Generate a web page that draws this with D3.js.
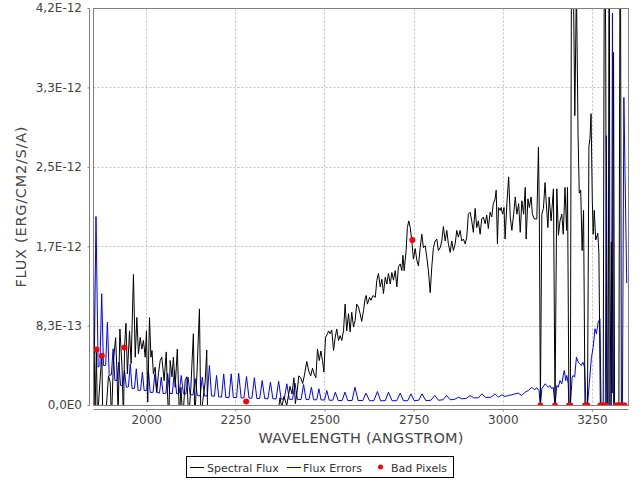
<!DOCTYPE html>
<html><head><meta charset="utf-8">
<script src="https://cdn.jsdelivr.net/npm/d3@7"></script>
<style>html,body{margin:0;padding:0;background:#fff}svg{display:block}</style>
</head><body>
<svg id="chart" width="640" height="480"></svg>
<script>
// Flux values are given in units of 1e-13 erg/cm2/s/A (FLUX_UNIT)
const FLUX_UNIT = 1e-13;

// Spectral Flux: [wavelength (Angstrom), flux]
const fluxPoints = [
[1851,14.6],[1855,-1.5],[1859,5.85],[1862,-1.5],[1870,3.0],[1874.5,5.2],[1877,-1.5],[1884,-1.5],
[1888.6,0.7],[1893,3.1],[1898,2.4],[1901.5,-1.5],[1907,4.7],[1913,7.1],[1917,3.3],[1920,-1.0],
[1925,8.0],[1931,4.0],[1935,-1.5],[1938,6.1],[1942,8.6],[1946,3.3],[1952,7.8],[1956.5,4.4],
[1963,13.7],[1968,5.05],[1972.5,9.2],[1977,5.4],[1982,7.1],[1986.5,5.9],[1991,6.8],[1996,5.05],
[1999.5,7.8],[2003,0.35],[2008,9.2],[2012,5.05],[2015,5.75],[2019,3.3],[2024,4.0],[2028.5,1.4],
[2033,3.3],[2038,4.7],[2042.5,5.05],[2049,2.6],[2055,5.6],[2058.5,1.2],[2062,-1.5],[2066,4.7],
[2071,3.0],[2075,5.05],[2080,1.9],[2086,5.9],[2092,-1.5],[2096,1.9],[2101.5,-1.5],[2108,2.6],
[2112.7,3.0],[2118,-1.5],[2124,1.9],[2131,7.5],[2135,-1.5],[2141,3.3],[2148,10.1],[2152,-1.5],
[2157.5,0.5],[2164,2.4],[2168.5,5.8],[2171,-1.5],[2200,-2.5],[2240,-3.0],[2280,-2.5],[2320,-3.0],
[2350,-2.0],[2365,-0.5],[2369,-0.5],[2374,0.8],[2379,-0.2],[2385,0.95],[2392.7,0],[2402,2.0],
[2407.5,1.2],[2413,2.9],[2417,0.2],[2422.5,1.6],[2426.5,3.1],[2432,2.9],[2437.5,2.3],[2442,3.1],
[2449,4.6],[2454.5,3.6],[2460,3.1],[2465,3.9],[2469.5,3.3],[2474.5,2.9],[2479,5.9],[2484,4.7],
[2488.5,5.7],[2493,4.7],[2497,3.5],[2501.5,7.1],[2507,7.5],[2510,7.8],[2514.5,7.5],[2519,7.9],
[2524,5.75],[2528.5,7.1],[2533,8.0],[2538,6.8],[2542.5,7.3],[2547,6.8],[2552,7.8],[2556.5,10.6],
[2561,7.8],[2566,9.6],[2570.5,7.7],[2575,9.75],[2580,8.2],[2584.5,8.9],[2589,10.6],[2594,10.3],
[2598.5,9.6],[2603,8.8],[2608,9.9],[2612.5,11.15],[2615.5,11.5],[2619,10.6],[2625,11.3],[2629,11.0],
[2634.5,11.5],[2641,11.3],[2645.5,13.1],[2650,13.8],[2655,12.4],[2659.5,13.2],[2664,11.7],[2669,13.4],
[2673.5,12.7],[2678,13.8],[2683,12.7],[2687.5,13.9],[2692,13.1],[2697,14.1],[2701.5,12.4],[2706,14.5],
[2711,14.8],[2715.5,14.1],[2718.5,15.7],[2722,14.1],[2727.5,16.2],[2731,18.6],[2735,19.3],[2739,18.6],
[2743.5,17.2],[2748,15.3],[2753,16.4],[2757.5,15.2],[2762,14.6],[2767,16.5],[2771.5,17.9],[2776,16.5],
[2781,16.7],[2785.5,15.5],[2790,14.1],[2795,11.8],[2799.5,14.5],[2804,16.5],[2809,17.2],[2813.5,17.4],
[2818,16.2],[2823,16.5],[2827.5,17.2],[2832,18.7],[2837,17.2],[2841.5,18.3],[2846,16.9],[2851,16.0],
[2855.5,17.2],[2860,16.2],[2865,16.9],[2869.5,18.3],[2874,17.6],[2879,18.3],[2883.5,17.2],[2888,17.4],
[2893,16.9],[2897.5,17.6],[2902,20.0],[2907,20.2],[2911.5,19.3],[2916,18.1],[2921,20.6],[2925.5,18.6],
[2930,19.3],[2935,17.9],[2939.5,19.5],[2944,19.7],[2949,19.0],[2953.5,19.9],[2958,18.5],[2963,20.2],
[2967.5,19.7],[2972,21.1],[2977,21.6],[2980,22.5],[2983.5,16.9],[2986.5,20.7],[2991.5,20.4],[2994,20.7],
[2998,20.0],[3002,20.7],[3005,17.4],[3010,21.1],[3015,23.9],[3019.5,19.7],[3024,18.3],[3029,20.0],
[3033.5,21.8],[3038,20.0],[3043,21.1],[3047.5,18.1],[3052,21.4],[3057,20.0],[3061.5,22.8],[3064,17.4],
[3069,21.6],[3073,20.7],[3078,21.8],[3081.5,20.0],[3087,19.5],[3094,19.5],[3098.5,27.0],[3101,20.0],
[3104,0],[3108,20.0],[3112.5,20.6],[3117,23.3],[3120,21.4],[3125,18.6],[3128.5,21.8],[3134,19.3],
[3140.5,22.65],[3145,0],[3150,22.65],[3154.5,17.8],[3159,19.3],[3164,20.0],[3168,17.9],[3173,22.8],
[3177.5,18.3],[3180,22.8],[3184,0],[3188,0],[3192,60],[3200.5,30.3],[3205,44],[3209.5,28.4],
[3213,22.2],[3217,22.5],[3221,16.2],[3225,20.4],[3229,0],[3233,0],[3236,0],[3240,27.1],
[3243,27.9],[3246,30.5],[3249.5,21.4],[3252,17.9],[3255,20.4],[3259,17.3],[3265,18.0],[3268,15.9],
[3272,0],[3276,0],[3280,0],[3284,60],[3287,38],[3290,0],[3294,0],[3297,60],
[3299,0],[3303,17.1],[3305,1.3],[3309,36.9],[3312,0],[3316,0],[3320,0],[3324,0],
[3328,60],[3331,0],[3335,0],[3339,0]
];

// Flux Errors: [wavelength (Angstrom), error]
const errorPoints = [
[1853.5,5.4],[1858,19.76],[1864,4.0],[1869,4.2],[1874,11.68],[1879,4.18],[1885,4.2],[1890,8.71],
[1895,3.14],[1901,3.2],[1906,5.93],[1911,2.61],[1917,2.65],[1922,4.53],[1927,2.09],[1933,2.1],
[1938,3.66],[1943,1.91],[1949,1.95],[1954,4.36],[1959,1.78],[1966,1.8],[1971,3.84],[1976,1.57],
[1983,1.6],[1988,3.48],[1993,1.57],[2000,1.55],[2005,3.66],[2010,1.36],[2018,1.38],[2023,3.31],
[2028,1.36],[2036,1.3],[2041,2.96],[2046,1.25],[2054,1.27],[2059,3.35],[2065,1.25],[2072,1.25],
[2078,3.66],[2084,1.25],[2091,1.23],[2097,3.14],[2103,1.25],[2110,1.2],[2116,2.96],[2122,1.15],
[2130,1.1],[2136,2.82],[2142,1.05],[2150,1.0],[2156,2.96],[2162,1.0],[2170,1.0],[2176,4.18],
[2182,1.0],[2190,0.98],[2196,3.14],[2202,0.9],[2210,0.88],[2216,3.31],[2222,0.84],[2231,0.84],
[2237,3.31],[2243,0.84],[2252,0.82],[2258,3.38],[2265,0.8],[2273,0.8],[2280,3.03],[2287,0.78],
[2295,0.75],[2302,2.90],[2309,0.73],[2317,0.73],[2324,2.61],[2331,0.73],[2340,0.7],[2347,2.44],
[2354,0.7],[2363,0.68],[2370,2.54],[2377,0.68],[2386,0.66],[2393,2.27],[2400,0.65],[2409,0.64],
[2416,2.33],[2423,0.63],[2433,0.63],[2440,2.20],[2447,0.62],[2455,0.62],[2462,1.91],[2468,0.6],
[2477,0.6],[2483,1.75],[2489,0.58],[2499,0.58],[2505,1.57],[2512,0.55],[2522,0.55],[2529,1.39],
[2537,0.52],[2548,0.52],[2556,1.39],[2564,0.52],[2576,0.52],[2584,1.91],[2593,0.52],[2606,0.52],
[2615,1.29],[2625,0.5],[2637,0.5],[2647,1.46],[2656,0.5],[2669,0.5],[2678,1.39],[2688,0.5],
[2701,0.5],[2711,1.30],[2720,0.5],[2732,0.5],[2741,1.22],[2750,0.52],[2763,0.55],[2772,1.22],
[2783,0.5],[2797,0.55],[2808,1.05],[2818,0.55],[2831,0.6],[2841,1.05],[2851,0.6],[2864,0.65],
[2874,0.87],[2884,0.7],[2897,0.75],[2907,1.05],[2917,0.8],[2930,0.8],[2940,1.22],[2950,0.85],
[2965,0.85],[2977,1.22],[2986,0.87],[2996,1.12],[3005,0.94],[3014,1.05],[3024,1.12],[3033,1.22],
[3042,1.29],[3052,1.05],[3061,1.39],[3070,1.57],[3080,1.91],[3087,1.64],[3094,1.85],[3100,1.57],
[3104,0],[3108,1.75],[3117,2.27],[3122,2.09],[3126,1.91],[3131,2.09],[3136,1.75],[3140,1.91],
[3145,0],[3150,2.09],[3154,1.91],[3159,2.61],[3164,2.27],[3168,3.14],[3171,3.66],[3175,2.61],
[3178,3.14],[3182,2.27],[3184,0],[3188,0],[3193,2.96],[3196,3.14],[3200,2.96],[3205,5.05],
[3210,4.53],[3214,4.36],[3219,4.18],[3223,4.53],[3228,4.0],[3232,0],[3236,0],[3241,2.27],
[3247,5.0],[3252,6.09],[3257,8.02],[3261,7.49],[3266,8.71],[3271,9.06],[3274,0],[3278,0],
[3282,0],[3286,0],[3289,28.2],[3292,0],[3296,0],[3300,0],[3303,0],[3306,41],
[3309,0],[3315,0],[3320,0],[3325,0],[3330,0],[3334,0],[3338,32.2],[3346,12.8]
];

// Bad Pixels: [wavelength (Angstrom), flux]
const badPixelPoints = [
[1859.3,5.85],[1874.4,5.2],[1937.8,6.06],[2279,0.42],[2745,17.3],
[3104,0],[3145,0],[3184,0],[3188,0],[3229,0],[3233,0],[3236,0],
[3272,0],[3276,0],[3280,0],[3284,0],[3288,0],
[3316,0],[3320,0],[3324,0],[3328,0],[3332,0],[3336,0],[3340,0]
];

const xTickValues = [2000, 2250, 2500, 2750, 3000, 3250];
const yTickValues = [0, 8.3e-13, 1.66e-12, 2.49e-12, 3.32e-12, 4.15e-12];
const yTickLabels = ["0,0E0", "8,3E-13", "1,7E-12", "2,5E-12", "3,3E-12", "4,2E-12"];
const xDomain = [1851, 3351];
const yDomain = [0, 4.15e-12];
const seriesNames = ["Spectral Flux", "Flux Errors", "Bad Pixels"];
const xTitle = "WAVELENGTH (ANGSTROM)";
const yTitle = "FLUX (ERG/CM2/S/A)";

// ---------- drawing ----------
const FONT = "DejaVu Sans, Verdana, sans-serif";
const plot = {left: 93.5, right: 628.5, top: 8.5, bottom: 405.5};
const svg = d3.select("#chart");
svg.append("rect").attr("width", 640).attr("height", 480).attr("fill", "#ffffff");

const x = d3.scaleLinear().domain(xDomain).range([plot.left, plot.right]);
const y = d3.scaleLinear().domain(yDomain).range([plot.bottom, plot.top]);

svg.append("defs").append("clipPath").attr("id", "plotclip")
  .append("rect").attr("x", plot.left).attr("y", plot.top)
  .attr("width", plot.right - plot.left).attr("height", plot.bottom - plot.top);

// grid lines
const grid = svg.append("g").attr("stroke", "#c0c0c0").attr("stroke-width", 1)
  .attr("stroke-dasharray", "2,2").attr("fill", "none");
xTickValues.forEach(t => {
  const px = Math.floor(x(t)) + 0.5;
  grid.append("line").attr("x1", px).attr("x2", px).attr("y1", plot.top).attr("y2", plot.bottom);
});
yTickValues.forEach(t => {
  const py = Math.floor(y(t)) + 0.5;
  grid.append("line").attr("x1", plot.left).attr("x2", plot.right).attr("y1", py).attr("y2", py);
});

// series
const toXY = d => [d[0], d[1] * FLUX_UNIT];
const line = d3.line().x(d => x(d[0])).y(d => y(d[1]));
const plotG = svg.append("g").attr("clip-path", "url(#plotclip)");
plotG.append("path").datum(errorPoints.map(toXY))
  .attr("d", line).attr("fill", "none").attr("stroke", "#0000ff").attr("stroke-width", 1);
plotG.append("path").datum(fluxPoints.map(toXY))
  .attr("d", line).attr("fill", "none").attr("stroke", "#000000").attr("stroke-width", 1);
plotG.selectAll("circle.bad").data(badPixelPoints.map(toXY)).enter().append("circle")
  .attr("class", "bad").attr("cx", d => x(d[0])).attr("cy", d => y(d[1]))
  .attr("r", 3).attr("fill", "#ff0000");

// plot outline
svg.append("rect").attr("x", plot.left).attr("y", plot.top)
  .attr("width", plot.right - plot.left).attr("height", plot.bottom - plot.top)
  .attr("fill", "none").attr("stroke", "#808080").attr("stroke-width", 1);

// axes
const yAxis = d3.axisLeft(y).tickValues(yTickValues)
  .tickFormat((d, i) => yTickLabels[i]).tickSize(2).tickSizeOuter(0).tickPadding(5.5).offset(0);
const xAxis = d3.axisBottom(x).tickValues(xTickValues)
  .tickFormat(d3.format("d")).tickSize(2).tickSizeOuter(0).tickPadding(4).offset(0);

const gy = svg.append("g").attr("transform", "translate(89.5,0)").call(yAxis);
const gx = svg.append("g").attr("transform", "translate(0,409.5)").call(xAxis);
[gx, gy].forEach(g => {
  g.attr("font-family", FONT).attr("font-size", 12);
  g.select(".domain").attr("stroke", "#808080");
  g.selectAll(".tick line").attr("stroke", "#808080");
  g.selectAll(".tick text").attr("fill", "#444444");
});

// axis titles
svg.append("text").attr("x", (plot.left + plot.right) / 2).attr("y", 442.5)
  .attr("text-anchor", "middle").attr("font-family", FONT).attr("font-size", 14.5)
  .attr("fill", "#444444").attr("textLength", 205).attr("lengthAdjust", "spacing")
  .text(xTitle);
svg.append("text").attr("transform", `translate(25.5,${(plot.top + plot.bottom) / 2}) rotate(-90)`)
  .attr("text-anchor", "middle").attr("font-family", FONT).attr("font-size", 14.5)
  .attr("fill", "#444444").attr("textLength", 161).attr("lengthAdjust", "spacing")
  .text(yTitle);

// legend
const lg = svg.append("g").attr("font-family", FONT).attr("font-size", 11).attr("fill", "#333333");
lg.append("rect").attr("x", 186.5).attr("y", 456.5).attr("width", 267).attr("height", 21)
  .attr("fill", "#ffffff").attr("stroke", "#000000").attr("stroke-width", 1);
lg.append("line").attr("x1", 190).attr("x2", 204).attr("y1", 467.5).attr("y2", 467.5)
  .attr("stroke", "#000000").attr("stroke-width", 1);
lg.append("text").attr("x", 207).attr("y", 471.5).text(seriesNames[0]);
lg.append("line").attr("x1", 287).attr("x2", 301).attr("y1", 467.5).attr("y2", 467.5)
  .attr("stroke", "#0000ff").attr("stroke-width", 1);
lg.append("text").attr("x", 303).attr("y", 471.5).text(seriesNames[1]);
lg.append("circle").attr("cx", 380.5).attr("cy", 467).attr("r", 2.5).attr("fill", "#ff0000");
lg.append("text").attr("x", 391).attr("y", 471.5).text(seriesNames[2]);
</script>
</body></html>
